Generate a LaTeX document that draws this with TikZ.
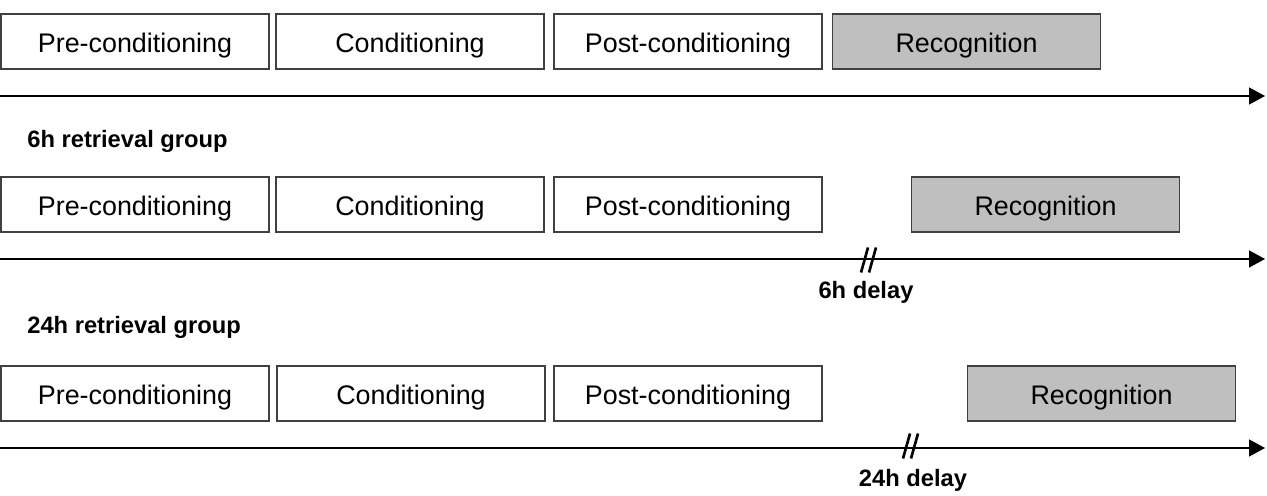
\documentclass[tikz,border=0pt]{standalone}
\usepackage{fontspec}
\setmainfont{Liberation Sans}
\usetikzlibrary{arrows.meta}

\tikzset{
    phase/.style={draw=black!75, line width=0.8pt, minimum width=5.36cm, minimum height=1.1cm, inner sep=0pt, text height=12pt, text depth=0pt, font=\fontsize{15.3}{18}\selectfont},
    recog/.style={phase, fill=black!25},
    grouplabel/.style={anchor=west, inner sep=0pt, font=\bfseries\fontsize{13.5}{16}\selectfont},
    timeline/.style={-{Triangle[length=0.32cm, width=0.34cm]}, line width=0.7pt},
    brk/.style={line width=1.5pt},
}

\begin{document}
\begin{tikzpicture}[x=0.02cm, y=-0.02cm]
    \useasboundingbox (0, 0) rectangle (1267, 496);

    % immediate retrieval
    \node[phase] at (135, 41.5) (pre1) {Pre-conditioning};
    \node[phase] at (410, 41.5) (cond1) {Conditioning};
    \node[phase] at (688, 41.5) (post1) {Post-conditioning};
    \node[recog] at (966.5, 41.5) (rec1) {Recognition};
    \coordinate (t1s) at (0, 96);
    \coordinate (t1e) at (1265, 96);
    \draw[timeline] (t1s) -- (t1e);

    % 6h retrieval
    \node[grouplabel] at (27, 141) (g6) {6h retrieval group};
    \node[phase] at (135, 204.5) (pre2) {Pre-conditioning};
    \node[phase] at (410, 204.5) (cond2) {Conditioning};
    \node[phase] at (688, 204.5) (post2) {Post-conditioning};
    \node[recog] at (1045.5, 204.5) (rec2) {Recognition};
    \coordinate (t2s) at (0, 259);
    \coordinate (t2e) at (1265, 259);
    \draw[timeline] (t2s) -- (t2e);
    \coordinate (brk2) at (870, 260);
    \draw[brk] (brk2) ++(-9, 12.5) -- ++(7, -25);
    \draw[brk] (brk2) ++(-1, 12.5) -- ++(7, -25);
    \node[grouplabel, anchor=center] at (866, 292) (d6) {6h delay};

    % 24h retrieval
    \node[grouplabel] at (27, 327) (g24) {24h retrieval group};
    \node[phase] at (135, 393.5) (pre3) {Pre-conditioning};
    \node[phase] at (411, 393.5) (cond3) {Conditioning};
    \node[phase] at (688, 393.5) (post3) {Post-conditioning};
    \node[recog] at (1101.5, 393.5) (rec3) {Recognition};
    \coordinate (t3s) at (0, 448);
    \coordinate (t3e) at (1265, 448);
    \draw[timeline] (t3s) -- (t3e);
    \coordinate (brk3) at (912, 446);
    \draw[brk] (brk3) ++(-9, 12.5) -- ++(7, -25);
    \draw[brk] (brk3) ++(-1, 12.5) -- ++(7, -25);
    \node[grouplabel, anchor=center] at (913, 480) (d24) {24h delay};
\end{tikzpicture}
\end{document}
